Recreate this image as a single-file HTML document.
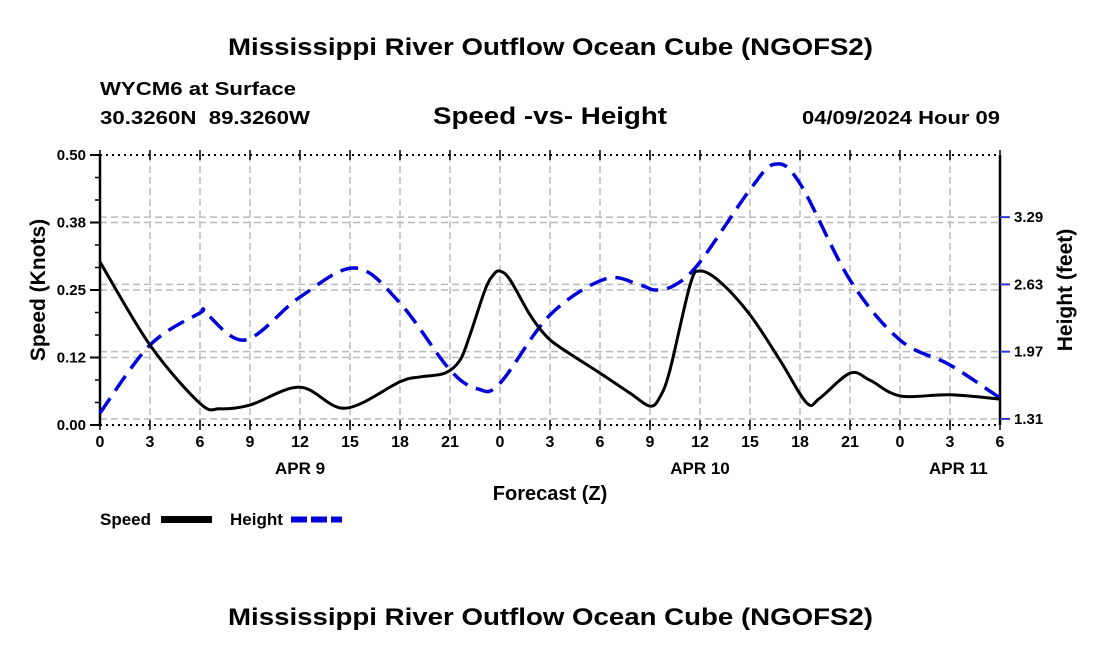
<!DOCTYPE html>
<html><head><meta charset="utf-8"><style>
html,body{margin:0;padding:0;background:#fff;}
svg{display:block;font-family:"Liberation Sans",Arial,sans-serif;font-weight:bold;}
</style></head><body>
<svg id="chart" width="1100" height="650" viewBox="0 0 1100 650" xmlns="http://www.w3.org/2000/svg">
<rect width="1100" height="650" fill="#fff"/>
<text x="228" y="55" font-size="24" textLength="645" lengthAdjust="spacingAndGlyphs">Mississippi River Outflow Ocean Cube (NGOFS2)</text>
<text x="100" y="95" font-size="18" textLength="196" lengthAdjust="spacingAndGlyphs">WYCM6 at Surface</text>
<text x="100" y="124" font-size="18" textLength="210" lengthAdjust="spacingAndGlyphs" xml:space="preserve">30.3260N  89.3260W</text>
<text x="433" y="124" font-size="24" textLength="234" lengthAdjust="spacingAndGlyphs">Speed -vs- Height</text>
<text x="802" y="124" font-size="18" textLength="198" lengthAdjust="spacingAndGlyphs">04/09/2024 Hour 09</text>
<g id="grid"></g>
<g id="axes"></g>
<g id="series"></g>
<text transform="translate(45,290) rotate(-90)" text-anchor="middle" font-size="21">Speed (Knots)</text>
<text transform="translate(1072,290) rotate(-90)" text-anchor="middle" font-size="21">Height (feet)</text>
<text x="550" y="500" text-anchor="middle" font-size="20">Forecast (Z)</text>
<g>
<text x="100" y="525" font-size="17">Speed</text>
<rect x="161" y="516" width="51" height="7" fill="#000"/>
<text x="230" y="525" font-size="17">Height</text>
<line x1="291" y1="519.5" x2="342" y2="519.5" stroke="#0000dd" stroke-width="6" stroke-dasharray="16,4"/>
</g>
<text x="228" y="625" font-size="24" textLength="645" lengthAdjust="spacingAndGlyphs">Mississippi River Outflow Ocean Cube (NGOFS2)</text>
</svg>
<script>
const speedHours=[0,3,6,7.2,9,12,14.7,18,19.2,20.7,21.6,22.2,23.1,23.6,24,24.6,25.8,26.7,27.6,30,31.8,33,33.6,34.2,35.4,36,37.2,39,40.8,42.4,43.2,45,46.2,48,51,54];
const speedValues=[.302,.148,.040,.030,.037,.070,.031,.080,.089,.096,.120,.167,.250,.278,.285,.269,.204,.167,.144,.096,.059,.035,.052,.102,.259,.285,.265,.204,.120,.041,.050,.096,.083,.054,.056,.048];
const heightHours=[0,3,6,6.3,8.7,12,15.3,18,21,22.7,24,27,30.3,32.4,33.3,34.5,36,39,40.5,42,45,48,51,54];
const heightValues=[1.368,2.035,2.350,2.355,2.084,2.506,2.791,2.447,1.790,1.603,1.660,2.330,2.683,2.624,2.575,2.624,2.850,3.560,3.810,3.620,2.673,2.084,1.839,1.515];
const xTickLabels=['0','3','6','9','12','15','18','21','0','3','6','9','12','15','18','21','0','3','6'];
const leftTicks=[0,0.125,0.25,0.375,0.5];
const leftTickLabels=['0.00','0.12','0.25','0.38','0.50'];
const rightTicks=[1.31,1.97,2.63,3.29];
const dayLabels=[{h:12,t:'APR 9'},{h:36,t:'APR 10'},{h:51.5,t:'APR 11'}];
const X0=100,X1=1000,Y0=425,Y1=155,HMAX=54,SMAX=0.5,RMIN=1.25,RMAX=3.90;
const xs=h=>X0+(X1-X0)*h/HMAX;
const ys=v=>Y0-(Y0-Y1)*v/SMAX;
const yr=v=>Y0-(Y0-Y1)*(v-RMIN)/(RMAX-RMIN);
const NS='http://www.w3.org/2000/svg';
function mk(tag,attrs,parent){const e=document.createElementNS(NS,tag);for(const k in attrs)e.setAttribute(k,attrs[k]);parent.appendChild(e);return e;}
const grid=document.getElementById('grid'),axes=document.getElementById('axes'),series=document.getElementById('series');
const gs={stroke:'#bbb','stroke-width':1.5,'stroke-dasharray':'7,4',fill:'none'};
for(let i=1;i<xTickLabels.length-1;i++){const x=xs(i*3);const l=mk('line',Object.assign({x1:x,y1:Y1,x2:x,y2:Y0},gs),grid);

}
leftTicks.slice(1,-1).forEach(v=>{const l=mk('line',Object.assign({x1:X0,y1:ys(v),x2:X1,y2:ys(v)},gs),grid);

});
rightTicks.forEach(v=>{const l=mk('line',Object.assign({x1:X0,y1:yr(v),x2:X1,y2:yr(v)},gs),grid);

});
[Y1,Y0].forEach(y=>{const l=mk('line',{x1:X0,y1:y,x2:X1,y2:y,stroke:'#000','stroke-width':2,'stroke-dasharray':'2,4'},axes);

});
[X0,X1].forEach(x=>{const l=mk('line',{x1:x,y1:Y1,x2:x,y2:Y0,stroke:'#000','stroke-width':2.5},axes);

});
xTickLabels.forEach((t,i)=>{const x=xs(i*3);
const tk=mk('line',{x1:x,y1:Y0-5,x2:x,y2:Y0+5,stroke:'#000','stroke-width':1.5},axes);


const tt=mk('line',{x1:x,y1:Y1-5,x2:x,y2:Y1+5,stroke:'#000','stroke-width':1.5},axes);


const tx=mk('text',{x:x,y:Y0+22,'text-anchor':'middle','font-size':16},axes);tx.textContent=t;

});
dayLabels.forEach(d=>{const tx=mk('text',{x:xs(d.h),y:Y0+49,'text-anchor':'middle','font-size':17},axes);tx.textContent=d.t;

});
leftTicks.forEach((v,i)=>{const y=ys(v);
const tk=mk('line',{x1:X0-10,y1:y,x2:X0,y2:y,stroke:'#000','stroke-width':2},axes);


const tx=mk('text',{x:X0-14,y:y+5,'text-anchor':'end','font-size':15},axes);tx.textContent=leftTickLabels[i];


if(i<leftTicks.length-1){for(let k=1;k<3;k++){const yy=ys(v+k*0.125/3);const m=mk('line',{x1:X0-5,y1:yy,x2:X0,y2:yy,stroke:'#000','stroke-width':1.5},axes);

}}});
rightTicks.forEach(v=>{const y=yr(v);
const tk=mk('line',{x1:X1,y1:y,x2:X1+10,y2:y,stroke:'#3333cc','stroke-width':2},axes);


const tx=mk('text',{x:X1+14,y:y+5,'font-size':15},axes);tx.textContent=v.toFixed(2);

});
function smooth(pts){let d='M'+pts[0][0]+','+pts[0][1];
for(let i=0;i<pts.length-1;i++){const p0=pts[i-1]||pts[i],p1=pts[i],p2=pts[i+1],p3=pts[i+2]||p2;
const c1=[p1[0]+(p2[0]-p0[0])/6,p1[1]+(p2[1]-p0[1])/6],c2=[p2[0]-(p3[0]-p1[0])/6,p2[1]-(p3[1]-p1[1])/6];
d+=' C'+c1.join(',')+' '+c2.join(',')+' '+p2.join(',');}return d;}
const hp=mk('path',{d:smooth(heightHours.map((h,i)=>[xs(h),yr(heightValues[i])])),fill:'none',stroke:'#0000dd','stroke-width':3.5,'stroke-dasharray':'18,9'},series);


const sp=mk('path',{d:smooth(speedHours.map((h,i)=>[xs(h),ys(speedValues[i])])),fill:'none',stroke:'#000','stroke-width':3},series);


</script>
</body></html>
